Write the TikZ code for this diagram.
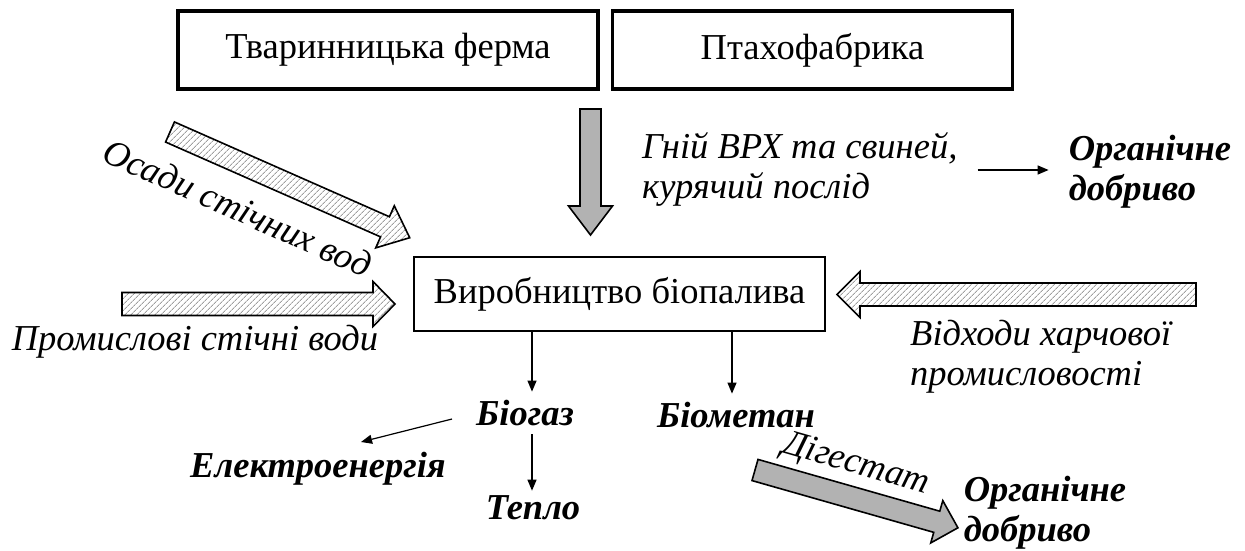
\documentclass[tikz,border=0pt]{standalone}
\usepackage{fontspec}
\setmainfont{Liberation Serif}
\usetikzlibrary{patterns,patterns.meta,arrows.meta,calc}
\newcommand\blockarr[8]{% style, x, y, angle, length, shaft half, head half, head length
  \draw[#1, shift={(#2,#3)}, rotate=#4] (0,#6) -- ({#5-#8},#6) -- ({#5-#8},#7) -- (#5,0) -- ({#5-#8},-#7) -- ({#5-#8},-#6) -- (0,-#6) -- cycle;}
\begin{document}
\begin{tikzpicture}[x=1pt,y=-1pt,
  txt/.style={font=\fontsize{36.5}{40}\selectfont, inner sep=0pt},
  itx/.style={txt, font=\fontsize{36.5}{40}\selectfont\itshape},
  bitx/.style={txt, font=\fontsize{36.5}{40}\selectfont\bfseries\itshape},
  topbox/.style={txt, draw, line width=3.5pt, minimum width=420, minimum height=78},
  midbox/.style={txt, draw, line width=1.2pt, minimum width=411, minimum height=74},
  arr/.style={line width=1.2pt, -{Triangle[length=11pt,width=9pt]}},
  hatch/.style={draw, line width=1.6pt, pattern={Lines[angle=45,distance=4pt,line width=0.9pt]}, pattern color=gray!75},
  grey/.style={draw, line width=1.6pt, fill=gray!60}]
\useasboundingbox (0,0) rectangle (1245,551);
\node[topbox] (ferma) at (388,50) {Тваринницька ферма};
\node[topbox, minimum width=400] (ptah) at (812.5,50) {Птахофабрика};
\node[midbox] (bio) at (619.5,294) {Виробництво біопалива};

\blockarr{grey}{590.5}{109}{-90}{126}{10.5}{22}{29}
\blockarr{hatch}{170}{132}{-23.8}{262}{11}{23}{27}
\blockarr{hatch}{122}{304}{0}{273}{11.5}{22.5}{22}
\blockarr{hatch}{1196}{294.5}{180}{359}{11.5}{23}{23}
\blockarr{grey}{755}{470}{-15.9}{211}{11}{22}{22}

\node[itx, align=left, anchor=west] (gnij) at (642,169) {Гній ВРХ та свиней,\\курячий послід};
\node[bitx, align=left] (org1) at (1150,172) {Органічне\\добриво};
\draw[arr] ($(gnij.east)+(20,1)$) -- ($(org1.west)+(-20,-2)$);

\node[itx, rotate=-24] (osady) at (238,208) {Осади стічних вод};
\node[itx] (prom) at (195,342) {Промислові стічні води};
\node[itx, align=left, anchor=west] (vidh) at (910,357) {Відходи харчової\\промисловості};

\node[bitx] (biogas) at (525,413) {Біогаз};
\node[bitx] (biomet) at (736,415) {Біометан};
\node[bitx] (elec) at (318,469) {Електроенергія};
\node[bitx] (teplo) at (533,508) {Тепло};
\node[itx, rotate=-16] (dig) at (856,465) {Дігестат};
\node[bitx, align=left] (org2) at (1045,513) {Органічне\\добриво};

\draw[arr] ($(bio.south)+(-87.5,0)$) -- ++(0,60);
\draw[arr] ($(bio.south)+(112.5,0)$) -- ++(0,62);
\draw[arr] ($(biogas.west)+(-24,6)$) -- ++(-91,23);
\draw[arr] ($(biogas.south)+(7,8)$) -- ($(teplo.north)+(-1,-5)$);
\end{tikzpicture}
\end{document}
